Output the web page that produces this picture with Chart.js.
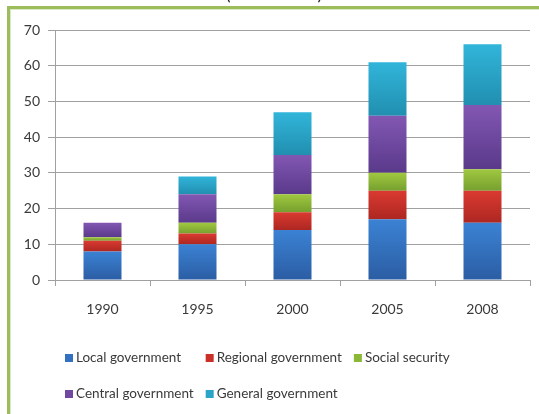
<!DOCTYPE html>
<html>
<head>
<meta charset="utf-8">
<script src="https://cdn.jsdelivr.net/npm/chart.js@4.4.1/dist/chart.umd.min.js"></script>
<style>
  html, body { margin: 0; padding: 0; background: #ffffff; }
  #wrap { position: relative; width: 539px; height: 414px; }
</style>
</head>
<body>
<div id="wrap"><canvas id="chart"></canvas></div>
<script>
// Government debt by level of government, stacked by sub-sector
const years = ['1990', '1995', '2000', '2005', '2008'];
const localGov    = [8, 10, 14, 17, 16];
const regionalGov = [3, 3, 5, 8, 9];
const socialSec   = [1, 3, 5, 5, 6];
const centralGov  = [4, 8, 11, 16, 18];
const generalGov  = [0, 5, 12, 15, 17];
const yTicks = [0, 10, 20, 30, 40, 50, 60, 70];

const seriesNames = ['Local government', 'Regional government', 'Social security',
                     'Central government', 'General government'];
const seriesValues = [localGov, regionalGov, socialSec, centralGov, generalGov];
// [top, bottom, legend swatch] shades of each series
const shades = [
  ['#3b82d4', '#2b5da3', '#3470c0'],
  ['#da3a31', '#ad2721', '#c83028'],
  ['#a0c840', '#76a02e', '#8cb838'],
  ['#8257b3', '#5a398a', '#7048a0'],
  ['#31b5da', '#218fb0', '#2aa5c8']
];

const FONT = 'Lato, "Open Sans", sans-serif';

// vertical gradient per stacked segment
function segmentFill(si) {
  return function (ctx) {
    if (ctx.type !== 'data') return shades[si][2];
    const chart = ctx.chart;
    const y = chart.scales.y;
    if (!y) return shades[si][2];
    const i = ctx.dataIndex;
    let start = 0;
    for (let k = 0; k < si; k++) start += seriesValues[k][i];
    const end = start + seriesValues[si][i];
    const top = y.getPixelForValue(end);
    const bottom = y.getPixelForValue(start);
    if (!isFinite(top) || !isFinite(bottom) || top === bottom) return shades[si][2];
    const g = chart.ctx.createLinearGradient(0, top, 0, bottom);
    g.addColorStop(0, shades[si][0]);
    g.addColorStop(1, shades[si][1]);
    return g;
  };
}

const frame = {
  id: 'frame',
  beforeDraw(chart) {
    const c = chart.ctx;
    c.save();
    c.fillStyle = '#ffffff';
    c.fillRect(0, 0, chart.width, chart.height);
    // green card border
    c.fillStyle = '#dbe8c4';
    c.fillRect(10, 9, chart.width, 1);
    c.fillRect(10, 9, 1, chart.height);
    c.fillStyle = '#9dbd5c';
    c.fillRect(7, 6, chart.width, 3);
    c.fillRect(7, 6, 3, chart.height);
    // heading above the card, mostly out of view
    c.fillStyle = '#222222';
    c.font = '18px ' + FONT;
    c.textAlign = 'center';
    c.textBaseline = 'alphabetic';
    c.fillText('(billion EUR)', 274, 0);
    c.restore();
  }
};

const gridLegend = {
  id: 'gridLegend',
  afterDraw(chart) {
    const c = chart.ctx;
    const ds = chart.data.datasets;
    c.save();
    c.font = '13.5px ' + FONT;
    c.textBaseline = 'middle';
    c.textAlign = 'left';
    const cols = 3, box = 8, gapText = 3, gapCol = 12, x0 = 65;
    const rowsY = [358, 394];
    const colW = [];
    for (let k = 0; k < cols; k++) {
      let w = 0;
      for (let i = k; i < ds.length; i += cols) w = Math.max(w, c.measureText(ds[i].label).width);
      colW.push(box + gapText + w + gapCol);
    }
    ds.forEach((d, i) => {
      const col = i % cols, row = Math.floor(i / cols);
      let x = x0;
      for (let k = 0; k < col; k++) x += colW[k];
      const y = rowsY[row];
      c.fillStyle = shades[i][2];
      c.fillRect(x, y - box / 2, box, box);
      c.fillStyle = '#3a3a3a';
      c.fillText(d.label, x + box + gapText, y);
    });
    c.restore();
  }
};

new Chart(document.getElementById('chart'), {
  type: 'bar',
  data: {
    labels: years,
    datasets: seriesNames.map((name, si) => ({
      label: name,
      data: seriesValues[si],
      backgroundColor: segmentFill(si),
      borderWidth: 0,
      barPercentage: 0.4,
      categoryPercentage: 1.0
    }))
  },
  options: {
    responsive: true,
    maintainAspectRatio: false,
    animation: false,
    layout: { padding: { left: 12, right: 9, top: 30, bottom: 94 } },
    plugins: { legend: { display: false }, tooltip: { enabled: false } },
    scales: {
      x: {
        stacked: true,
        afterFit(s) { s.height = 40; },
        grid: { drawOnChartArea: false, drawTicks: true, tickLength: 6, color: '#a0a0a0', offset: true },
        border: { color: '#a0a0a0' },
        ticks: { color: '#3a3a3a', font: { family: FONT, size: 14 }, padding: 15 }
      },
      y: {
        stacked: true,
        min: 0,
        max: 70,
        afterFit(s) { s.width = 43; },
        afterBuildTicks(s) { s.ticks = yTicks.map(v => ({ value: v })); },
        grid: { color: '#a0a0a0', tickLength: 7, drawTicks: true },
        border: { color: '#a0a0a0' },
        ticks: { color: '#3a3a3a', font: { family: FONT, size: 14 }, padding: 8 }
      }
    }
  },
  plugins: [frame, gridLegend]
});
</script>
</body>
</html>
